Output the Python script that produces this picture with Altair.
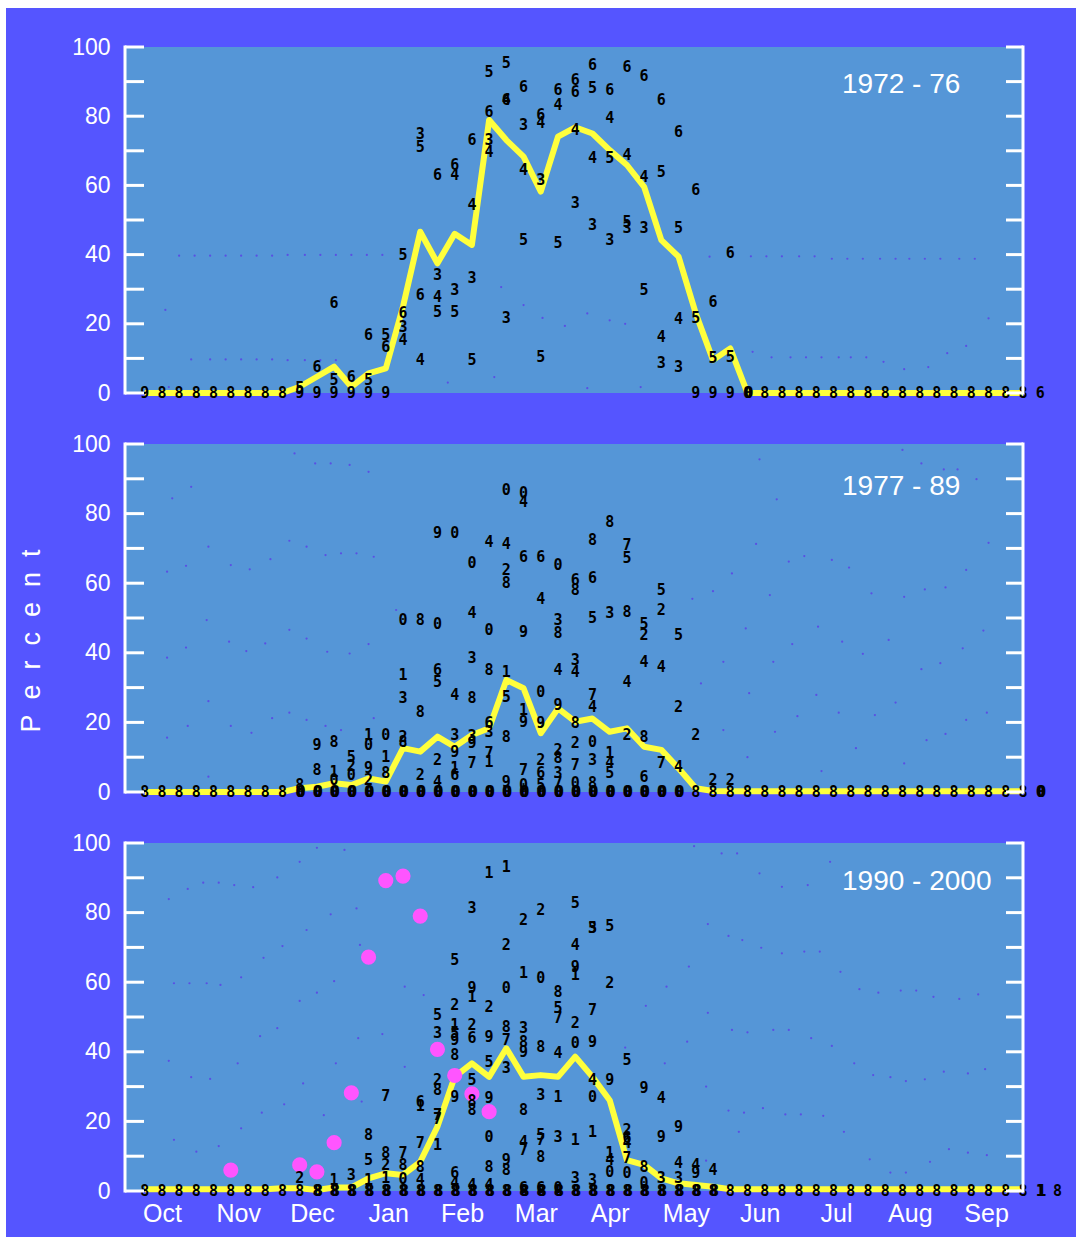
import altair as alt
import pandas as pd

# ---------------------------------------------------------------------------
# Weekly survey columns: week k is observed on day 8 + 7k of the water year
# (day 0 = 1 October).  Values are percent.
# ---------------------------------------------------------------------------
FIRST_DAY = 8
STEP_DAYS = 7

PERIODS = ["1972 - 76", "1977 - 89", "1990 - 2000"]
MONTHS = ["Oct", "Nov", "Dec", "Jan", "Feb", "Mar", "Apr", "May", "Jun", "Jul", "Aug", "Sep"]
MONTH_MID_DAY = [15, 46, 76, 107, 137, 167, 197, 228, 258, 289, 319, 350]
Y_TICKS = [0, 10, 20, 30, 40, 50, 60, 70, 80, 90, 100]
Y_LABELS = [0, 20, 40, 60, 80, 100]

# period means, weeks 0..51
MEAN_7276 = [0, 0, 0, 0, 0, 0, 0, 0, 0, 1.8, 4.7, 7.6, 1.8, 5.7, 7.1, 25, 46.6, 37.5,
             46, 42.8, 78.9, 73.1, 68.3, 58.2, 74.1, 76.8, 75, 70.2, 65.9, 59.6, 44.2,
             39.4, 23, 9.5, 12.9, 0, 0, 0, 0, 0, 0, 0, 0, 0, 0, 0, 0, 0, 0, 0, 0, 0]
MEAN_7789 = [0, 0, 0, 0, 0, 0, 0, 0, 0, 1.1, 1.5, 2.5, 2, 3.9, 3, 12.6, 11.6, 15.9, 13,
             16.4, 18.3, 32.2, 29.8, 16.9, 24, 20.2, 21.1, 17.3, 18.3, 13, 12.1, 6.8,
             1.1, 0.3, 0.2, 0.2, 0.2, 0.2, 0.2, 0.2, 0.2, 0.2, 0.2, 0.2, 0.2, 0.2, 0.2,
             0.2, 0.2, 0.2, 0.2, 0.2]
MEAN_9000 = [0.5, 0.5, 0.5, 0.5, 0.5, 0.5, 0.5, 0.5, 0.8, 0.8, 0.3, 1, 1, 3.6, 5.1, 4.6,
             8.4, 18.5, 32.8, 36.7, 32.8, 41, 32.8, 33.3, 32.8, 38.6, 32.8, 26.1, 8.9,
             7.5, 3.6, 2.2, 1.7, 1.2, 0.5, 0.5, 0.5, 0.5, 0.5, 0.5, 0.5, 0.5, 0.5, 0.5,
             0.5, 0.5, 0.5, 0.5, 0.5, 0.5, 0.5, 0.5]

# individual years (week, percent, last digit of the year)
YEARS_7276 = [
    (9, 1.5, "5"), (10, 7.6, "6"), (11, 3.8, "5"), (11, 26, "6"), (12, 4.7, "6"),
    (13, 3.8, "5"), (13, 16.8, "6"), (14, 16.8, "5"), (14, 13.4, "6"),
    (15, 23, "6"), (15, 19.2, "3"), (15, 15.3, "4"), (15, 39.9, "5"),
    (16, 75, "3"), (16, 71.2, "5"), (16, 28.3, "6"), (16, 9.5, "4"),
    (17, 63, "6"), (17, 34.1, "3"), (17, 27.8, "4"), (17, 23.5, "5"),
    (18, 65.9, "6"), (18, 63, "4"), (18, 29.8, "3"), (18, 23.5, "5"),
    (19, 54.3, "4"), (19, 33.1, "3"), (19, 73.1, "6"), (19, 9.5, "5"),
    (20, 92.9, "5"), (20, 81.3, "6"), (20, 73.1, "3"), (20, 69.7, "4"),
    (21, 95.3, "5"), (21, 84.7, "6"), (21, 84.7, "4"), (21, 21.6, "3"),
    (22, 88.5, "6"), (22, 77.5, "3"), (22, 64.5, "4"), (22, 44.2, "5"),
    (23, 80.3, "6"), (23, 78, "4"), (23, 61.6, "3"), (23, 10.5, "5"),
    (24, 87.6, "6"), (24, 83.2, "4"), (24, 43.3, "5"),
    (25, 90.5, "6"), (25, 87.1, "6"), (25, 76, "4"), (25, 54.8, "3"),
    (26, 94.8, "6"), (26, 88.1, "5"), (26, 67.8, "4"), (26, 48.6, "3"),
    (27, 87.6, "6"), (27, 79.4, "4"), (27, 67.8, "5"), (27, 44.2, "3"),
    (28, 94.3, "6"), (28, 68.8, "4"), (28, 49.5, "5"), (28, 47.6, "3"),
    (29, 91.6, "6"), (29, 62.5, "4"), (29, 47.6, "3"), (29, 29.8, "5"),
    (30, 84.7, "6"), (30, 64, "5"), (30, 16.3, "4"), (30, 8.6, "3"),
    (31, 75.5, "6"), (31, 47.6, "5"), (31, 21.3, "4"), (31, 7.6, "3"),
    (32, 58.7, "6"), (32, 21.6, "5"), (33, 26.4, "6"), (33, 10, "5"),
    (34, 40.4, "6"), (34, 10.5, "5"),
]
YEARS_7789 = [
    (9, 2, "8"), (10, 13.5, "9"), (10, 6.3, "8"), (11, 14.5, "8"), (11, 5.8, "1"),
    (11, 3.5, "0"), (12, 10.1, "5"), (12, 4.9, "0"), (12, 7.5, "2"),
    (13, 16.4, "1"), (13, 13.5, "0"), (13, 6.8, "9"), (13, 3.4, "2"),
    (14, 16.4, "0"), (14, 10.1, "1"), (14, 5.4, "8"),
    (15, 49.4, "0"), (15, 33.6, "1"), (15, 26.9, "3"), (15, 15.9, "2"), (15, 14.5, "8"),
    (16, 49.4, "8"), (16, 23, "8"), (16, 4.9, "2"),
    (17, 48.4, "0"), (17, 35.1, "6"), (17, 31.7, "5"), (17, 9.2, "2"), (17, 3, "4"),
    (17, 74.3, "9"),
    (18, 74.3, "0"), (18, 27.9, "4"), (18, 16.4, "3"), (18, 11.6, "9"), (18, 4.9, "6"),
    (18, 7, "1"),
    (19, 65.7, "0"), (19, 51.3, "4"), (19, 38.4, "3"), (19, 26.9, "8"), (19, 14, "9"),
    (19, 8.2, "7"), (19, 16, "3"),
    (20, 71.9, "4"), (20, 46.6, "0"), (20, 35.1, "8"), (20, 19.8, "6"), (20, 17.3, "3"),
    (20, 11.1, "7"), (20, 8.5, "1"),
    (21, 86.8, "0"), (21, 71.4, "4"), (21, 63.8, "2"), (21, 60, "8"), (21, 34.6, "1"),
    (21, 27.4, "5"), (21, 15.9, "8"), (21, 3, "9"),
    (22, 85.8, "0"), (22, 83.4, "4"), (22, 67.6, "6"), (22, 46, "9"), (22, 23.6, "1"),
    (22, 20.2, "9"), (22, 6.3, "7"), (22, 2, "0"),
    (23, 67.6, "6"), (23, 55.6, "4"), (23, 28.8, "0"), (23, 19.7, "9"), (23, 9.2, "2"),
    (23, 5.4, "6"), (23, 2, "5"),
    (24, 65.2, "0"), (24, 49.4, "3"), (24, 45.6, "8"), (24, 35.1, "4"), (24, 25, "9"),
    (24, 12.1, "2"), (24, 9.7, "8"), (24, 5.5, "3"), (24, 2.6, "7"),
    (25, 60.9, "6"), (25, 58, "8"), (25, 37.9, "3"), (25, 34.6, "4"), (25, 19.7, "8"),
    (25, 14, "2"), (25, 7.8, "7"), (25, 2.5, "0"),
    (26, 72.4, "8"), (26, 61.4, "6"), (26, 49.9, "5"), (26, 27.9, "7"), (26, 24.5, "4"),
    (26, 14.5, "0"), (26, 9.2, "3"), (26, 2.5, "8"),
    (27, 77.7, "8"), (27, 51.3, "3"), (27, 11.1, "1"), (27, 8.2, "4"), (27, 5.4, "5"),
    (28, 71, "7"), (28, 67.2, "5"), (28, 51.8, "8"), (28, 31.7, "4"), (28, 16.4, "2"),
    (29, 48.4, "5"), (29, 45.1, "2"), (29, 37.4, "4"), (29, 15.9, "8"), (29, 4.4, "6"),
    (30, 58, "5"), (30, 52.3, "2"), (30, 36, "4"), (30, 8.2, "7"),
    (31, 45.1, "5"), (31, 24.5, "2"), (31, 7.3, "4"),
    (32, 16.4, "2"), (33, 3.4, "2"), (34, 3.4, "2"),
]
YEARS_9000 = [
    (9, 3.6, "2"), (11, 3.2, "1"), (12, 4.6, "3"),
    (13, 16.1, "8"), (13, 8.9, "5"), (13, 3.2, "1"),
    (14, 27.3, "7"), (14, 11, "8"), (14, 7.5, "2"), (14, 3.6, "1"),
    (15, 10.8, "7"), (15, 7.5, "8"), (15, 3.5, "0"),
    (16, 25.7, "6"), (16, 24.5, "1"), (16, 13.7, "7"), (16, 7, "8"), (16, 3.2, "4"),
    (17, 50.6, "5"), (17, 45.3, "3"), (17, 31.9, "2"), (17, 29, "8"), (17, 21.8, "7"),
    (17, 20.8, "7"), (17, 13.2, "1"),
    (18, 66.4, "5"), (18, 53.4, "2"), (18, 47.7, "1"), (18, 45.3, "5"), (18, 43.4, "9"),
    (18, 39.1, "8"), (18, 27.1, "9"), (18, 5.1, "6"), (18, 2.3, "4"),
    (19, 81.2, "3"), (19, 58.2, "9"), (19, 55.8, "1"), (19, 47.7, "2"), (19, 44, "6"),
    (19, 31.9, "5"), (19, 26, "8"), (19, 23.3, "8"), (19, 1.7, "4"),
    (20, 91.3, "1"), (20, 53, "2"), (20, 44.3, "9"), (20, 37.2, "5"), (20, 26.6, "9"),
    (20, 15.6, "0"), (20, 7, "8"), (20, 1.7, "4"),
    (21, 93.2, "1"), (21, 70.7, "2"), (21, 58.2, "0"), (21, 47.2, "8"), (21, 43.4, "7"),
    (21, 35.3, "3"), (21, 8.9, "9"), (21, 6, "8"),
    (22, 77.9, "2"), (22, 62.6, "1"), (22, 46.8, "3"), (22, 42.9, "8"), (22, 40, "9"),
    (22, 23.3, "8"), (22, 14.2, "4"), (22, 11.8, "7"), (22, 0.9, "6"),
    (23, 80.7, "2"), (23, 61.1, "0"), (23, 41.5, "8"), (23, 27.6, "3"), (23, 16.1, "5"),
    (23, 14.7, "7"), (23, 9.9, "8"), (23, 0.9, "6"),
    (24, 57.3, "8"), (24, 52.5, "5"), (24, 49.6, "7"), (24, 39.6, "4"), (24, 27.1, "1"),
    (24, 15.6, "3"), (24, 0.9, "0"),
    (25, 82.7, "5"), (25, 70.7, "4"), (25, 64.5, "9"), (25, 62.1, "1"), (25, 48.2, "2"),
    (25, 42.6, "0"), (25, 14.7, "1"), (25, 3.7, "3"),
    (26, 75.5, "3"), (26, 75.5, "5"), (26, 52, "7"), (26, 42.9, "9"), (26, 31.9, "4"),
    (26, 27.1, "0"), (26, 17, "1"), (26, 3.2, "3"),
    (27, 76.1, "5"), (27, 59.7, "2"), (27, 31.9, "9"), (27, 10.8, "1"), (27, 8.9, "4"),
    (27, 5.5, "0"),
    (28, 37.6, "5"), (28, 17.5, "2"), (28, 15.2, "6"), (28, 13.8, "4"), (28, 9.4, "7"),
    (28, 5.1, "0"),
    (29, 29.5, "9"), (29, 7, "8"), (29, 2.3, "0"),
    (30, 26.6, "4"), (30, 15.6, "9"), (30, 3.6, "3"),
    (31, 18.5, "9"), (31, 8, "4"), (31, 3.6, "3"),
    (32, 7.5, "4"), (32, 5.1, "9"), (33, 6, "4"),
]

# stacked zero readings: one glyph per week column (blank = none visible)
ZERO_7276 = "988888888999999                 99908888888888888888" + "6"
ZERO_7789 = "88888888800000000000000000000000888888888888888888880"
ZERO_9000 = "888888888888888888888888888888888888888888888888888818"
HEAVY_7276 = [35]
HEAVY_7789 = list(range(9, 32)) + [52]
HEAVY_9000 = list(range(10, 34)) + [52]

# recent-period survey series
SURVEY_WEEK = [5, 9, 10, 11, 12, 13, 14, 15, 16, 17, 18, 19, 20]
SURVEY_PCT = [6.0, 7.5, 5.5, 13.9, 28.2, 67.2, 89.2, 90.5, 79, 40.7, 33.2, 27.9, 22.8]

# faint background readings (week, percent)
DOTS_7276 = [
    (2.0, 39.7), (2.9, 39.7), (3.8, 39.7), (4.7, 39.7), (5.6, 39.7), (6.5, 39.7),
    (7.4, 39.7), (8.3, 39.9), (9.3, 39.9), (10.2, 39.9), (11.1, 39.9), (12.0, 39.9),
    (12.9, 39.9), (13.8, 39.9),
    (2.7, 9.7), (3.8, 9.7), (4.7, 9.7), (5.6, 9.7), (6.5, 9.7), (7.4, 9.7), (8.3, 9.5),
    (9.3, 9.5), (10.2, 9.5), (11.1, 9.5),
    (1.2, 24), (1.4, 1.7), (17.6, 3), (20.3, 4.6), (20.7, 30.6), (22.0, 25.4),
    (32.8, 39.4), (35.2, 39.5), (36.1, 39.5), (37.0, 39.5), (38.0, 39.5), (38.9, 39.5),
    (39.9, 38.8), (40.8, 38.8), (41.7, 38.8), (42.7, 38.8), (43.6, 38.8), (44.4, 38.8),
    (45.3, 38.8), (46.2, 38.8), (47.3, 38.8), (48.2, 38.8),
    (35.3, 11.9), (36.4, 10.3), (37.5, 10.3), (38.4, 10.3), (39.3, 10.3), (40.3, 10.3),
    (41.0, 10.3), (41.9, 10.3), (42.9, 9), (44.1, 6.9), (45.5, 7.5), (46.6, 11.5),
    (47.7, 13.6), (49.0, 21.6),
    (23.1, 21.7), (24.4, 19.4), (25.7, 23), (27.0, 21), (27.9, 20), (25.7, 1.4), (28.8, 1.7),
]
DOTS_7789 = [
    (8.7, 97.3), (9.9, 94.4), (10.8, 94.4), (11.9, 94), (13.0, 92), (2.7, 87.7), (1.6, 84.4),
    (3.7, 70.5), (8.4, 72.2), (9.4, 70.5), (10.5, 68.1), (11.4, 68.6), (12.3, 68.6),
    (13.3, 67.6), (5.0, 65.2), (6.1, 64), (7.3, 66.9), (2.4, 65), (1.3, 63.3), (3.6, 49.4),
    (8.4, 46.6), (9.4, 44.1), (4.9, 43.2), (7.0, 42.7), (13.0, 42.5), (2.4, 41.5),
    (1.3, 38.6), (5.9, 40.5), (10.6, 40.3), (11.9, 39.8), (14.6, 52.3), (3.7, 26.1),
    (8.4, 22.8), (7.4, 21.2), (9.4, 20.7), (13.3, 21.2), (2.5, 19), (5.0, 19), (10.5, 19),
    (6.2, 17), (11.4, 17.8), (1.3, 15.6), (3.7, 4.4),
    (35.7, 95.6), (44.0, 98.3), (45.1, 94.4), (46.4, 92.7), (47.2, 92.7), (48.3, 89.9),
    (36.7, 84.1), (35.5, 71.3), (38.3, 67.8), (37.4, 66.2), (39.9, 66.7), (40.9, 64.5),
    (47.7, 63.8), (49.0, 71.6), (34.1, 62.8), (33.0, 57.7), (36.3, 56.6), (42.2, 57.1),
    (44.1, 56.1), (45.3, 58.2), (46.5, 58.8), (31.8, 55.5), (34.9, 47), (39.1, 47.5),
    (48.7, 46.4), (37.6, 42.5), (40.5, 43.2), (43.2, 43.7), (33.6, 37.4), (36.5, 37.4),
    (41.7, 39.7), (47.5, 41.3), (45.1, 35.3), (46.2, 37), (32.3, 31.2), (35.1, 28.4),
    (39.0, 27.9), (43.6, 25.7), (42.4, 22.1), (40.3, 22.8), (37.9, 21.8), (48.9, 22.8),
    (47.7, 20.7), (33.6, 17.8), (36.6, 17.3), (46.5, 16.7), (45.4, 14.9), (41.3, 12.6),
    (35.0, 10), (44.1, 8.2), (39.3, 6),
]
DOTS_9000 = [
    (10.0, 98.6), (11.6, 98), (9.0, 94.6), (7.7, 90.1), (3.4, 88.6), (4.3, 88.6),
    (5.2, 87.9), (6.3, 87.3), (2.5, 86.8), (1.4, 83.9), (12.3, 81.2), (10.8, 79.5),
    (9.4, 75), (8.0, 70.4), (6.9, 67), (15.1, 58.7), (5.6, 61.4), (11.0, 60.3), (1.7, 59.7),
    (2.6, 59.7), (3.6, 59.7), (4.4, 59.2), (10.0, 57), (16.2, 56.3), (9.0, 54.6),
    (7.7, 46.8), (6.7, 44.5), (12.4, 43.9), (13.8, 45.1), (1.4, 37.4), (5.4, 36.7),
    (11.1, 36.7), (15.1, 35.7), (2.7, 32.7), (3.8, 32.2), (9.2, 30.9), (12.6, 25.7),
    (8.1, 24.9), (6.8, 22.5), (10.4, 21.8), (5.6, 18), (1.7, 14.7), (4.3, 12.9), (3.0, 11.3),
    (12.5, 70.7),
    (31.9, 99.1), (33.5, 97), (34.4, 97), (39.8, 94.6), (35.7, 91.3), (37.0, 87.4),
    (38.5, 87.9), (32.7, 76.7), (33.9, 73.3), (34.7, 72.1), (35.8, 69.9), (37.0, 68.3),
    (38.3, 68.8), (39.2, 68.8), (31.6, 64.5), (40.4, 63), (30.3, 58.7), (41.5, 58),
    (42.6, 57), (43.9, 57.6), (44.8, 57.6), (45.8, 55.8), (47.3, 55.2), (48.4, 56.5),
    (29.1, 53.2), (32.7, 51.2), (34.1, 46.3), (35.0, 45.6), (36.5, 46.3), (37.4, 46.3),
    (38.7, 43.9), (27.9, 41.2), (31.5, 42.9), (39.9, 41.7), (30.2, 36.7), (41.2, 36.7),
    (42.3, 33.3), (43.3, 32.7), (44.2, 31.6), (45.3, 32.1), (46.4, 34.3), (47.8, 33.8),
    (48.8, 35), (32.6, 30), (33.9, 23.1), (34.8, 22.5), (35.9, 23.8), (37.2, 22), (38.1, 22),
    (39.4, 21.6), (40.6, 17), (46.7, 12), (47.8, 11), (48.9, 10.3), (45.6, 8.4), (42.1, 9.1),
    (43.3, 5.3), (44.2, 5.3), (34.5, 17), (32.6, 8.7),
]

# ---------------------------------------------------------------------------
W = 898
HEIGHTS = [346, 348, 348]
GAP = 51
TITLE_BASELINE = [46, 51, 47]
PLOT_BLUE = "#5596d7"
PAGE_PURPLE = "#5555ff"
LABEL_FONT = "Liberation Sans, Arial, sans-serif"
DIGIT_FONT = "DejaVu Sans Mono, monospace"
DIGIT_SIZE = 15
# purple page panel behind the three plots (offsets from the first plot's corner)
PAGE_LEFT, PAGE_TOP, PAGE_RIGHT = -119, -39, 951
PAGE_BOTTOM = sum(HEIGHTS) + 2 * GAP + 47

XS = alt.Scale(domain=[0, 365], nice=False, zero=False)
YS = alt.Scale(domain=[0, 100], nice=False, zero=True)


def week_day(week):
    return FIRST_DAY + STEP_DAYS * week


def panel(idx, mean, years, zeros, heavy, dots, survey=False, bottom=False, ylabel=False,
          page=False):
    H = HEIGHTS[idx]
    mean_df = pd.DataFrame({"day": [week_day(k) for k in range(len(mean))], "v": mean})
    yr_df = pd.DataFrame(
        {"day": [week_day(w) for w, _, _ in years], "v": [v for _, v, _ in years],
         "d": [d for _, _, d in years]})
    zero_df = pd.DataFrame(
        [{"day": week_day(k), "v": 0, "d": ch} for k, ch in enumerate(zeros) if ch != " "])
    heavy_df = pd.DataFrame(
        [{"day": week_day(k), "v": 0, "d": zeros[k]} for k in heavy if zeros[k] != " "])
    dot_df = pd.DataFrame({"day": [week_day(w) for w, _ in dots], "v": [v for _, v in dots]})
    tick_df = pd.DataFrame({"v": Y_TICKS})
    one = pd.DataFrame({"a": [0]})

    y_axis = alt.Axis(values=Y_LABELS, domain=False, ticks=False, grid=False,
                      labelColor="white", labelFont=LABEL_FONT, labelFontSize=23,
                      labelPadding=15, title=None, zindex=2)
    if bottom:
        x_axis = alt.Axis(values=MONTH_MID_DAY, domain=False, ticks=False, grid=False,
                          labelColor="white", labelFont=LABEL_FONT, labelFontSize=25,
                          labelPadding=10, labelFlush=False, labelBaseline="top",
                          labelExpr="%s[indexof(%s, datum.value)]" % (
                              str(MONTHS).replace(" ", ""), str(MONTH_MID_DAY).replace(" ", "")),
                          title=None, zindex=2)
    else:
        x_axis = None

    X = alt.X("day:Q", scale=XS, axis=x_axis)
    Y = alt.Y("v:Q", scale=YS, axis=y_axis)

    layers = []
    if page:
        layers.append(alt.Chart(one).mark_rect(color=PAGE_PURPLE).encode(
            x=alt.value(PAGE_LEFT), x2=alt.value(PAGE_RIGHT),
            y=alt.value(PAGE_TOP), y2=alt.value(PAGE_BOTTOM)))
        layers.append(alt.Chart(one).mark_rect(color=PLOT_BLUE).encode(
            x=alt.value(0), x2=alt.value(W), y=alt.value(0), y2=alt.value(H)))
    layers.append(alt.Chart(dot_df).mark_circle(size=5, color="#5a4fe3", opacity=1).encode(
        x=X, y=Y))
    layers.append(alt.Chart(mean_df).mark_line(color="#ffff3c", strokeWidth=6,
                                               strokeJoin="round").encode(x=X, y=Y))
    if survey:
        s_df = pd.DataFrame({"day": [week_day(w) for w in SURVEY_WEEK], "v": SURVEY_PCT})
        layers.append(alt.Chart(s_df).mark_circle(size=230, color="#ff55ff", opacity=1).encode(
            x=X, y=Y))
    layers.append(alt.Chart(yr_df).mark_text(
        font=DIGIT_FONT, fontSize=DIGIT_SIZE, fontWeight="bold", color="black",
        align="center", baseline="middle").encode(x=X, y=Y, text="d:N"))
    for df, dx in ((zero_df, 0), (heavy_df, 1.5)):
        layers.append(alt.Chart(df).mark_text(
            dx=dx, font=DIGIT_FONT, fontSize=DIGIT_SIZE, fontWeight="bold", color="black",
            align="center", baseline="middle").encode(x=X, y=Y, text="d:N"))
    # axes frame: white vertical lines with inward ticks every 10 %
    layers.append(alt.Chart(tick_df).mark_rule(color="white", strokeWidth=3).encode(
        y=Y, x=alt.value(0), x2=alt.value(19)))
    layers.append(alt.Chart(tick_df).mark_rule(color="white", strokeWidth=3).encode(
        y=Y, x=alt.value(W - 17), x2=alt.value(W)))
    for xpos in (0, W):
        layers.append(alt.Chart(one).mark_rule(color="white", strokeWidth=3).encode(
            x=alt.value(xpos), y=alt.value(-1.5), y2=alt.value(H + 1.5)))
    layers.append(alt.Chart(pd.DataFrame({"t": [PERIODS[idx]]})).mark_text(
        font=LABEL_FONT, fontSize=28, color="white", align="left",
        baseline="alphabetic").encode(text="t:N", x=alt.value(717),
                                      y=alt.value(TITLE_BASELINE[idx])))
    if ylabel:
        layers.append(alt.Chart(pd.DataFrame({"t": ["P\u00a0\u00a0e\u00a0\u00a0r\u00a0\u00a0c"
                                                    "\u00a0\u00a0e\u00a0\u00a0n\u00a0\u00a0t"]})).mark_text(
            font=LABEL_FONT, fontSize=27, color="white", align="center", baseline="middle",
            angle=270).encode(text="t:N", x=alt.value(-93), y=alt.value(197)))
    return alt.layer(*layers).properties(width=W, height=H)


p1 = panel(0, MEAN_7276, YEARS_7276, ZERO_7276, HEAVY_7276, DOTS_7276, page=True)
p2 = panel(1, MEAN_7789, YEARS_7789, ZERO_7789, HEAVY_7789, DOTS_7789, ylabel=True)
p3 = panel(2, MEAN_9000, YEARS_9000, ZERO_9000, HEAVY_9000, DOTS_9000, survey=True,
           bottom=True)

chart = alt.vconcat(p1, p2, p3, spacing=GAP, bounds="flush").properties(
    background="white",
    autosize=alt.AutoSizeParams(type="pad"),
    padding={"left": 6, "top": 8, "right": 0, "bottom": 0},
).configure_view(fill=PLOT_BLUE, stroke=None)

chart.save("out.html", embed_options={"renderer": "svg", "actions": False})
